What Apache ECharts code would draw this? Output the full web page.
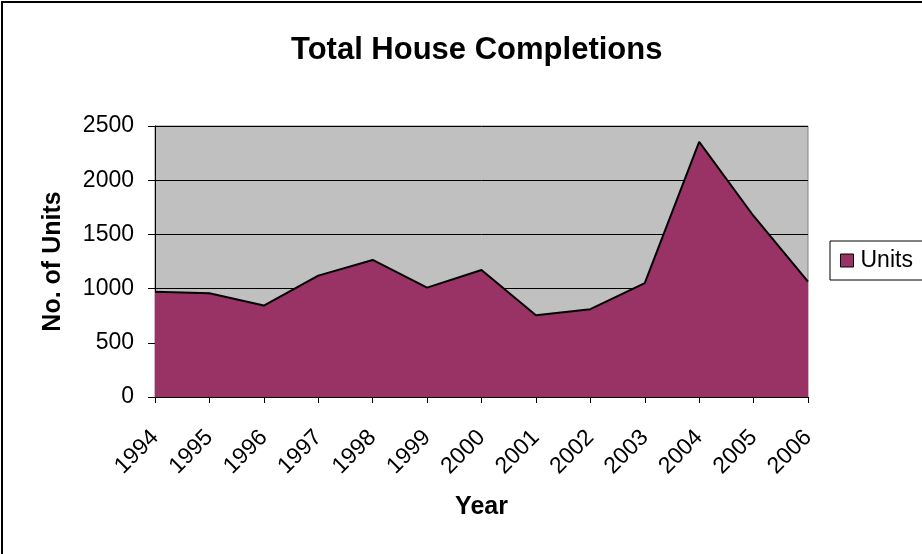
<!DOCTYPE html>
<html>
<head>
<meta charset="utf-8">
<script src="https://cdn.jsdelivr.net/npm/echarts@6/dist/echarts.min.js"></script>
<style>
  html, body { margin: 0; padding: 0; background: #fff; overflow: hidden; }
  #chart { width: 922px; height: 554px; }
</style>
</head>
<body>
<div id="chart"></div>
<script>
// Yearly completed house units
const years = ['1994','1995','1996','1997','1998','1999','2000','2001','2002','2003','2004','2005','2006'];
const units = [972, 958, 844, 1120, 1264, 1009, 1172, 755, 810, 1050, 2354, 1670, 1065];
const yTicks = { min: 0, max: 2500, interval: 500 };

const font = 'Liberation Sans, Arial, sans-serif';
const chart = echarts.init(document.getElementById('chart'), null, { renderer: 'canvas' });

chart.setOption({
  backgroundColor: '#ffffff',
  animation: false,
  title: {
    text: 'Total House Completions',
    left: 286,
    top: 30,
    textStyle: { fontFamily: font, fontSize: 31, fontWeight: 'bold', color: '#000' }
  },
  legend: {
    data: ['Units'],
    left: 830,
    top: 241,
    orient: 'vertical',
    icon: 'rect',
    itemWidth: 13,
    itemHeight: 13,
    itemGap: 0,
    padding: [8, 12, 8, 10],
    borderColor: '#000',
    borderWidth: 1,
    itemStyle: { borderColor: '#000', borderWidth: 1 },
    textStyle: { fontFamily: font, fontSize: 23, color: '#000', padding: [0, 0, 0, 2] }
  },
  grid: {
    left: 155,
    right: 114,
    top: 126,
    bottom: 157,
    show: true,
    backgroundColor: '#c0c0c0',
    borderColor: '#808080',
    borderWidth: 1
  },
  xAxis: {
    type: 'category',
    data: years,
    boundaryGap: false,
    name: 'Year',
    nameLocation: 'middle',
    nameGap: 98,
    nameTextStyle: { fontFamily: font, fontSize: 25, fontWeight: 'bold', color: '#000' },
    axisLine: { lineStyle: { color: '#000', width: 1 } },
    axisTick: { show: true, length: 6, lineStyle: { color: '#000' } },
    axisLabel: { rotate: 45, fontFamily: font, fontSize: 23, color: '#000', margin: 37 },
    splitLine: { show: false }
  },
  yAxis: {
    type: 'value',
    min: yTicks.min,
    max: yTicks.max,
    interval: yTicks.interval,
    name: 'No. of Units',
    nameLocation: 'middle',
    nameGap: 89,
    nameTextStyle: { fontFamily: font, fontSize: 25, fontWeight: 'bold', color: '#000' },
    axisLine: { show: true, lineStyle: { color: '#000', width: 1 } },
    axisTick: { show: true, length: 7, lineStyle: { color: '#000' } },
    axisLabel: {
      fontFamily: font, fontSize: 23, color: '#000', margin: 21,
      formatter: v => String(v)
    },
    splitLine: { show: true, lineStyle: { color: '#000', width: 1 } }
  },
  series: [{
    name: 'Units',
    type: 'line',
    data: units,
    symbol: 'none',
    color: '#993366',
    lineStyle: { color: '#000', width: 2 },
    areaStyle: { color: '#993366', opacity: 1 },
    z: 3
  }],
  graphic: [{
    type: 'rect',
    shape: { x: 2, y: 2, width: 960, height: 600 },
    style: { fill: 'none', stroke: '#000', lineWidth: 2 },
    silent: true,
    z: 100
  }]
});
</script>
</body>
</html>
